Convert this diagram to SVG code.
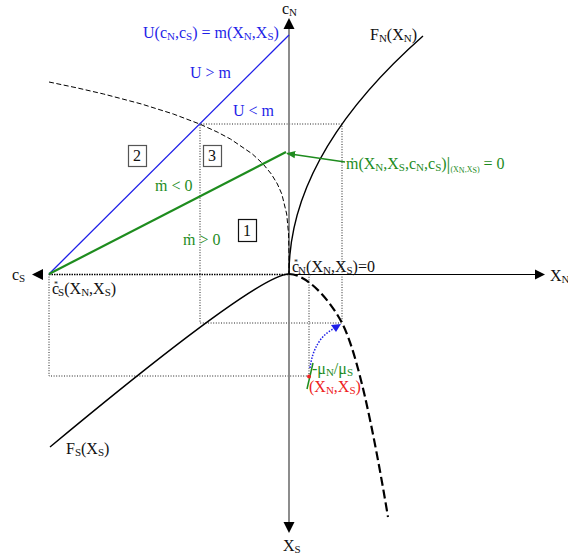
<svg xmlns="http://www.w3.org/2000/svg" width="568" height="555" viewBox="0 0 568 555">
<style>
text{font-family:"Liberation Serif","DejaVu Serif",serif;font-size:16px;fill:#111}
.sub{font-size:11px}
.tiny{font-size:8px}
.star{font-size:8px}
.blue{fill:#1f1fe8}
.green{fill:#1e8c1e}
.red{fill:#ee2222}
.dot{fill:none;stroke:#222;stroke-width:1;stroke-dasharray:1,1.6}
.box{fill:none;stroke-width:1.2}
</style>
<defs>
<marker id="garr" viewBox="0 0 10 10" refX="9" refY="5" markerWidth="7" markerHeight="7" orient="auto">
<path d="M0,1 L10,5 L0,9 Z" fill="#1e8c1e"/>
</marker>
</defs>
<rect width="568" height="555" fill="#fff"/>
<g id="guides">
<polyline class="dot" points="200,274 200,124 342,124 342,323 200,323 200,274"/>
<polyline class="dot" points="49,274 49,376 309,376 309,274"/>
</g>
<g id="axes">
<line x1="289" y1="28" x2="289" y2="522" stroke="#808080" stroke-width="1.8"/>
<polygon points="289,18 283.5,29 294.5,29" fill="#000"/>
<polygon points="289,533 283.5,522 294.5,522" fill="#000"/>
<line x1="289" y1="274.5" x2="537" y2="274.5" stroke="#000" stroke-width="1.2"/>
<polygon points="545,274.5 535,269.5 535,279.5" fill="#000"/>
<line x1="49" y1="274.5" x2="289" y2="274.5" stroke="#000" stroke-width="1.3" stroke-dasharray="1.5,1"/>
<polygon points="32,274.5 43,269 43,280" fill="#000"/>
<text x="282" y="14">c<tspan class="sub" dy="2">N</tspan></text>
<text x="283" y="551">X<tspan class="sub" dy="2">S</tspan></text>
<text x="550" y="281">X<tspan class="sub" dy="2">N</tspan></text>
<text x="12" y="280">c<tspan class="sub" dy="2">S</tspan></text>
</g>
<g id="curves">
<path d="M289,274 Q289,154.5 423,36" fill="none" stroke="#000" stroke-width="1.4"/>
<path d="M50,447 Q258,274 289,274" fill="none" stroke="#000" stroke-width="1.4"/>
<polyline points="49,82 77.6,88 103.6,94 141.5,104 173.3,114 199.6,124 217.2,132 230.4,139 252.4,154 263.1,164 271.3,174 277.4,184 281.8,194 286.7,214 288.55,234 289,254 289,274" fill="none" stroke="#000" stroke-width="1" stroke-linejoin="round" stroke-dasharray="5,2.5"/>
<path d="M289,274 C307,274 330,300 342,323 C357,351.5 373,427 388,517" fill="none" stroke="#000" stroke-width="2.2" stroke-dasharray="9,4"/>
</g>
<g id="connectors">
<line x1="49" y1="274" x2="289" y2="35" stroke="#1f1fe8" stroke-width="1.3"/>
<line x1="49" y1="274" x2="286" y2="152" stroke="#1e8c1e" stroke-width="2.2"/>
<line x1="345" y1="162" x2="287" y2="153.5" stroke="#1e8c1e" stroke-width="1.3" marker-end="url(#garr)"/>
<line x1="307" y1="389" x2="313" y2="363" stroke="#1e8c1e" stroke-width="1.5"/>
<circle cx="309" cy="376.5" r="2" fill="#ee2222"/>
<path d="M310,368 Q314,338 335,328" fill="none" stroke="#1f1fe8" stroke-width="1.5" stroke-dasharray="1.5,1.5"/>
<polygon points="341,324 331,325 336,332" fill="#1f1fe8"/>
</g>
<g id="labels">
<text x="143" y="38" class="blue">U(c<tspan class="sub" dy="2">N</tspan><tspan dy="-2">,c</tspan><tspan class="sub" dy="2">S</tspan><tspan dy="-2">) = m(X</tspan><tspan class="sub" dy="2">N</tspan><tspan dy="-2">,X</tspan><tspan class="sub" dy="2">S</tspan><tspan dy="-2">)</tspan></text>
<text x="370" y="40">F<tspan class="sub" dy="2">N</tspan><tspan dy="-2">(X</tspan><tspan class="sub" dy="2">N</tspan><tspan dy="-2">)</tspan></text>
<text x="190" y="78" class="blue">U &gt; m</text>
<text x="233" y="116" class="blue">U &lt; m</text>
<text x="155" y="191" class="green">ṁ &lt; 0</text>
<text x="183" y="245" class="green">ṁ &gt; 0</text>
<text x="346" y="169" class="green">ṁ(X<tspan class="sub" dy="2">N</tspan><tspan dy="-2">,X</tspan><tspan class="sub" dy="2">S</tspan><tspan dy="-2">,c</tspan><tspan class="sub" dy="2">N</tspan><tspan dy="-2">,c</tspan><tspan class="sub" dy="2">S</tspan><tspan dy="-2">)</tspan><tspan font-size="19" dy="1">|</tspan><tspan class="tiny" dy="2">(X</tspan><tspan class="tiny" font-size="6" dy="1">N</tspan><tspan class="tiny" dy="-1">,X</tspan><tspan class="tiny" font-size="6" dy="1">S</tspan><tspan class="tiny" dy="-1">)</tspan><tspan dy="-3"> = 0</tspan></text>
<text x="292" y="272">c<tspan class="star" dx="-5" dy="-7">*</tspan><tspan class="sub" dx="0" dy="9">N</tspan><tspan dy="-2">(X</tspan><tspan class="sub" dy="2">N</tspan><tspan dy="-2">,X</tspan><tspan class="sub" dy="2">S</tspan><tspan dy="-2">)=0</tspan></text>
<text x="52" y="294">c<tspan class="star" dx="-5" dy="-7">*</tspan><tspan class="sub" dx="0" dy="9">S</tspan><tspan dy="-2">(X</tspan><tspan class="sub" dy="2">N</tspan><tspan dy="-2">,X</tspan><tspan class="sub" dy="2">S</tspan><tspan dy="-2">)</tspan></text>
<text x="66" y="454">F<tspan class="sub" dy="2">S</tspan><tspan dy="-2">(X</tspan><tspan class="sub" dy="2">S</tspan><tspan dy="-2">)</tspan></text>
<text x="312" y="374" class="green">-μ<tspan class="sub" dy="2">N</tspan><tspan dy="-2">/μ</tspan><tspan class="sub" dy="2">S</tspan></text>
<text x="309" y="392" class="red">(X<tspan class="sub" dy="2">N</tspan><tspan dy="-2">,X</tspan><tspan class="sub" dy="2">S</tspan><tspan dy="-2">)</tspan></text>
</g>
<g id="box1"><rect class="box" x="238.5" y="219.5" width="18" height="22" stroke="#111"/><text x="243" y="236" font-size="14">1</text></g>
<g id="box2"><rect class="box" x="128.5" y="145.5" width="18" height="21" stroke="#555"/><text x="133" y="161" font-size="14">2</text></g>
<g id="box3"><rect class="box" x="203.5" y="145.5" width="18" height="21" stroke="#555"/><text x="208" y="161" font-size="14">3</text></g>
</svg>
